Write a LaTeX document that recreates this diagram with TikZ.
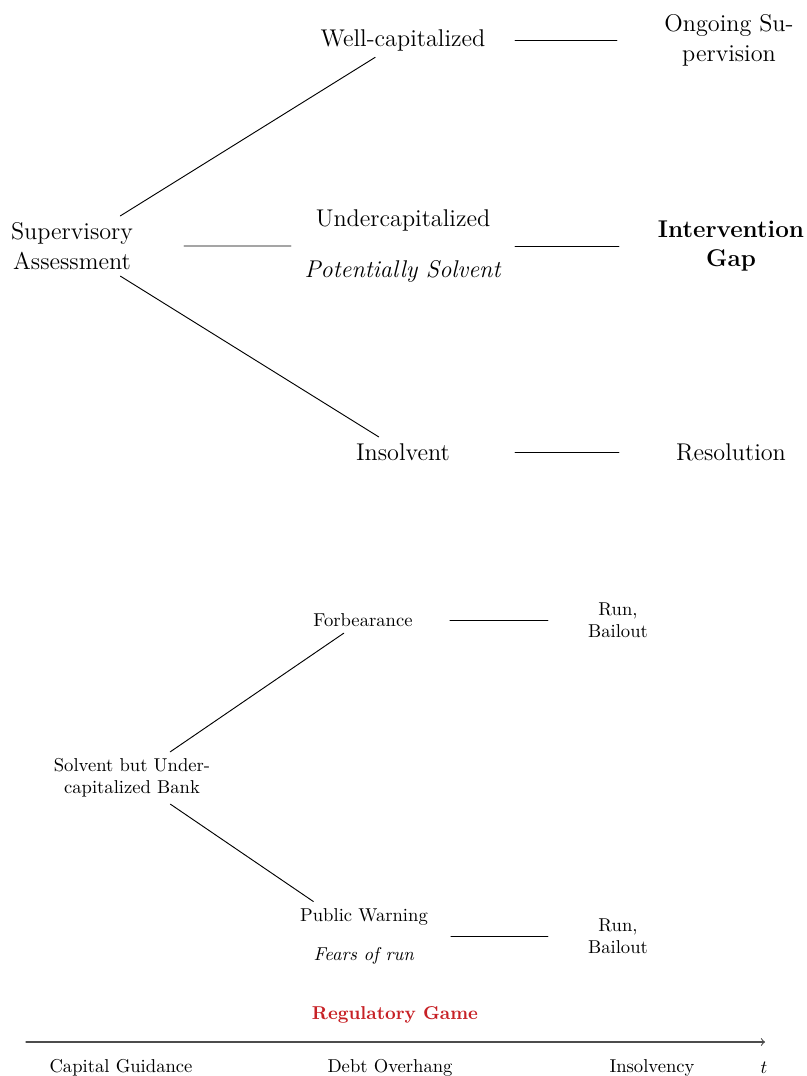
\documentclass[tikz,border=0pt]{standalone}
\usepackage{xcolor}
\definecolor{gamered}{rgb}{0.78,0.13,0.15}
\newcommand{\topsize}{\fontsize{13}{16}\selectfont}
\begin{document}
\begin{tikzpicture}[x=0.537pt, y=-0.537pt, line join=round, line cap=round, >=to,
	top/.style={font=\topsize, align=center, minimum width=120pt},
	low/.style={align=center, minimum width=93pt},
	runbox/.style={align=center, minimum width=75pt}]
	\useasboundingbox (0,0) rectangle (807,1076);
	% Supervisory tree
	\node[top] (sa) at (72,246) {Supervisory\\Assessment};
	\node[top] (wc) at (403,40) {Well-capitalized};
	\node[top] (uc) at (403,246) {Undercapitalized\\[11.5pt]\textit{Potentially Solvent}};
	\node[top] (ins) at (403,452) {Insolvent};
	\node[top] (og) at (729,40) {Ongoing Su-\\pervision};
	\node[top, font=\topsize\bfseries] (gap) at (731,246) {Intervention\\Gap};
	\node[top] (res) at (731,452) {Resolution};
	\draw[line width=0.5pt] (sa)--(wc) (sa)--(uc) (sa)--(ins);
	\draw[line width=0.5pt] (wc)--(og) (uc)--(gap) (ins)--(res);
	% Regulatory game
	\node[low] (bank) at (132,778) {Solvent but Under-\\capitalized Bank};
	\node[low] (forb) at (363,620) {Forbearance};
	\node[low] (warn) at (364,936) {Public Warning\\[9pt]\textit{Fears of run}};
	\node[runbox] (run1) at (618,620) {Run,\\Bailout};
	\node[runbox] (run2) at (618,936) {Run,\\Bailout};
	\draw[line width=0.5pt] (bank)--(forb) (bank)--(warn);
	\draw[line width=0.5pt] (forb)--(run1) (warn)--(run2);
	\node[font=\bfseries, text=gamered] (game) at (395,1015) {Regulatory Game};
	% Time axis
	\coordinate (t0) at (26,1042); \coordinate (t1) at (765,1042);
	\draw[->, black!70, semithick] (t0)--(t1);
	\node (cg) at (121,1068) {Capital Guidance};
	\node (debt) at (390,1068) {Debt Overhang};
	\node (insy) at (652,1068) {Insolvency};
	\node (tlab) at (764,1068) {$t$};
\end{tikzpicture}
\end{document}
